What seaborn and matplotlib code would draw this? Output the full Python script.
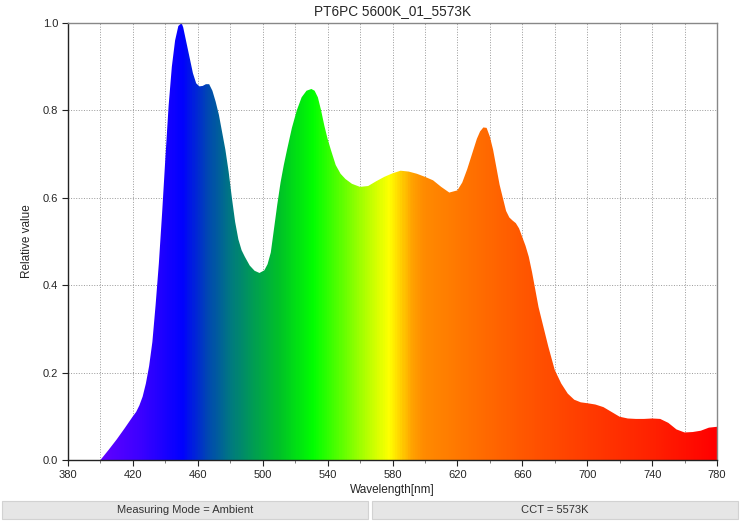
"""PT6PC 5600K spektrum grafiği: dalga boyuna göre renklendirilmiş dolgu."""

import matplotlib

matplotlib.use("Agg")
import matplotlib.pyplot as plt
import numpy as np
import seaborn as sns
from matplotlib.colors import LinearSegmentedColormap, Normalize
from matplotlib.patches import Rectangle
from matplotlib.ticker import FormatStrFormatter, MultipleLocator

TITLE = "PT6PC 5600K_01_5573K"
FOOTER_LEFT = "Measuring Mode = Ambient"
FOOTER_RIGHT = "CCT = 5573K"
X_TICKS = [380, 420, 460, 500, 540, 580, 620, 660, 700, 740, 780]

# ölçülen spektrum
wavelength = [
    400, 405, 410, 415, 420, 422, 424, 426, 428, 430, 432, 434, 436, 438, 440,
    442, 444, 446, 448, 450, 451, 453, 455, 457, 459, 461, 463, 465, 467, 469,
    471, 473, 475, 477, 479, 481, 483, 485, 487, 489, 492, 495, 498, 501, 503,
    505, 507, 509, 511, 513, 515, 518, 521, 524, 527, 530, 532, 534, 536, 538,
    540, 542, 545, 548, 551, 555, 560, 565, 570, 575, 580, 585, 590, 595, 600,
    605, 610, 615, 620, 623, 626, 629, 632, 634, 636, 638, 640, 642, 644, 646,
    648, 650, 652, 654, 656, 658, 660, 662, 664, 666, 668, 670, 673, 676, 680,
    684, 688, 692, 696, 700, 705, 710, 715, 720, 725, 730, 735, 740, 745, 750,
    755, 760, 765, 770, 775, 780,
]
relative = [
    0.0, 0.023, 0.047, 0.073, 0.1, 0.11, 0.125, 0.145, 0.175, 0.215, 0.27,
    0.355, 0.45, 0.565, 0.69, 0.81, 0.9, 0.96, 0.993, 1.0, 0.99, 0.955, 0.92,
    0.885, 0.862, 0.855, 0.856, 0.86, 0.86, 0.845, 0.82, 0.79, 0.75, 0.71,
    0.66, 0.6, 0.545, 0.505, 0.48, 0.465, 0.445, 0.433, 0.428, 0.434, 0.448,
    0.475, 0.53, 0.585, 0.635, 0.675, 0.71, 0.76, 0.8, 0.83, 0.845, 0.849,
    0.845, 0.83, 0.8, 0.765, 0.735, 0.71, 0.675, 0.655, 0.643, 0.632, 0.625,
    0.627, 0.638, 0.648, 0.656, 0.662, 0.66, 0.655, 0.648, 0.64, 0.625, 0.612,
    0.617, 0.635, 0.665, 0.7, 0.735, 0.752, 0.761, 0.76, 0.74, 0.71, 0.67,
    0.63, 0.6, 0.57, 0.555, 0.548, 0.542, 0.53, 0.51, 0.49, 0.465, 0.43, 0.39,
    0.35, 0.305, 0.26, 0.206, 0.175, 0.152, 0.138, 0.132, 0.13, 0.127, 0.121,
    0.11, 0.099, 0.095, 0.094, 0.094, 0.095, 0.094, 0.085, 0.07, 0.063, 0.064,
    0.067, 0.074, 0.076,
]

# renk durakları (nm, renk)
color_nm = [380, 400, 425, 450, 465, 480, 495, 510, 531, 550, 566, 578, 585,
            592, 600, 630, 660, 700, 740, 780]
color_hex = ["#5a00ff", "#6000ff", "#3a00ff", "#0000ff", "#0045b5", "#007a80",
             "#00a050", "#00c228", "#00ff00", "#66ff00", "#c0ff00", "#ffff00",
             "#ffd200", "#ffa200", "#ff8a00", "#ff7000", "#ff5800", "#ff3c00",
             "#ff2200", "#ff0000"]

sns.set_theme(style="ticks")
plt.rcParams["font.family"] = ["Liberation Sans", "DejaVu Sans"]

fig = plt.figure(figsize=(7.4, 5.21), dpi=100)
ax = fig.add_axes([68 / 740, 61 / 521, 649 / 740, 437 / 521])

sns.lineplot(x=wavelength, y=relative, ax=ax, linewidth=0, color="white")
poly = ax.fill_between(wavelength, relative, 0, facecolor="none", edgecolor="none")

konum = [(n - 380) / 400 for n in color_nm]
cmap = LinearSegmentedColormap.from_list("spektrum", list(zip(konum, color_hex)))
gradyan = np.linspace(380, 780, 800)[np.newaxis, :]
im = ax.imshow(gradyan, cmap=cmap, norm=Normalize(380, 780), aspect="auto",
               extent=[380, 780, 0, 1], origin="lower", interpolation="bilinear",
               zorder=2)
im.set_clip_path(poly.get_paths()[0], transform=ax.transData)

ax.set_xlim(380, 780)
ax.set_ylim(0, 1.0)
ax.set_xticks(X_TICKS)
ax.xaxis.set_minor_locator(MultipleLocator(20))
ax.yaxis.set_major_locator(MultipleLocator(0.2))
ax.yaxis.set_major_formatter(FormatStrFormatter("%.1f"))
ax.grid(which="both", axis="x", linestyle=":", color="#999999", linewidth=0.7, zorder=0)
ax.grid(which="major", axis="y", linestyle=":", color="#999999", linewidth=0.7, zorder=0)
ax.set_axisbelow(True)

ax.tick_params(axis="both", which="major", labelsize=8, direction="out",
               length=4, width=0.8, color="#222222", pad=3)
ax.tick_params(axis="x", which="minor", length=2, width=0.6, color="#666666")
for side in ("left", "bottom"):
    ax.spines[side].set_color("#222222")
    ax.spines[side].set_linewidth(1.0)
for side in ("top", "right"):
    ax.spines[side].set_visible(True)
    ax.spines[side].set_color("#888888")
    ax.spines[side].set_linewidth(1.0)

ax.set_xlabel("Wavelength[nm]", fontsize=8.5, labelpad=3)
ax.set_ylabel("Relative value", fontsize=8.5, labelpad=7)
ax.set_title(TITLE, fontsize=9.8, pad=6)

# alt bilgi kutuları
for x0, metin in ((2, FOOTER_LEFT), (372, FOOTER_RIGHT)):
    fig.patches.append(Rectangle((x0 / 740, 2 / 521), 366 / 740, 18 / 521,
                                 transform=fig.transFigure, facecolor="#e6e6e6",
                                 edgecolor="#d2d2d2", linewidth=0.8))
    fig.text((x0 + 183) / 740, 11 / 521, metin, ha="center", va="center",
             fontsize=8, color="#333333")

fig.savefig("out.png", dpi=100)
